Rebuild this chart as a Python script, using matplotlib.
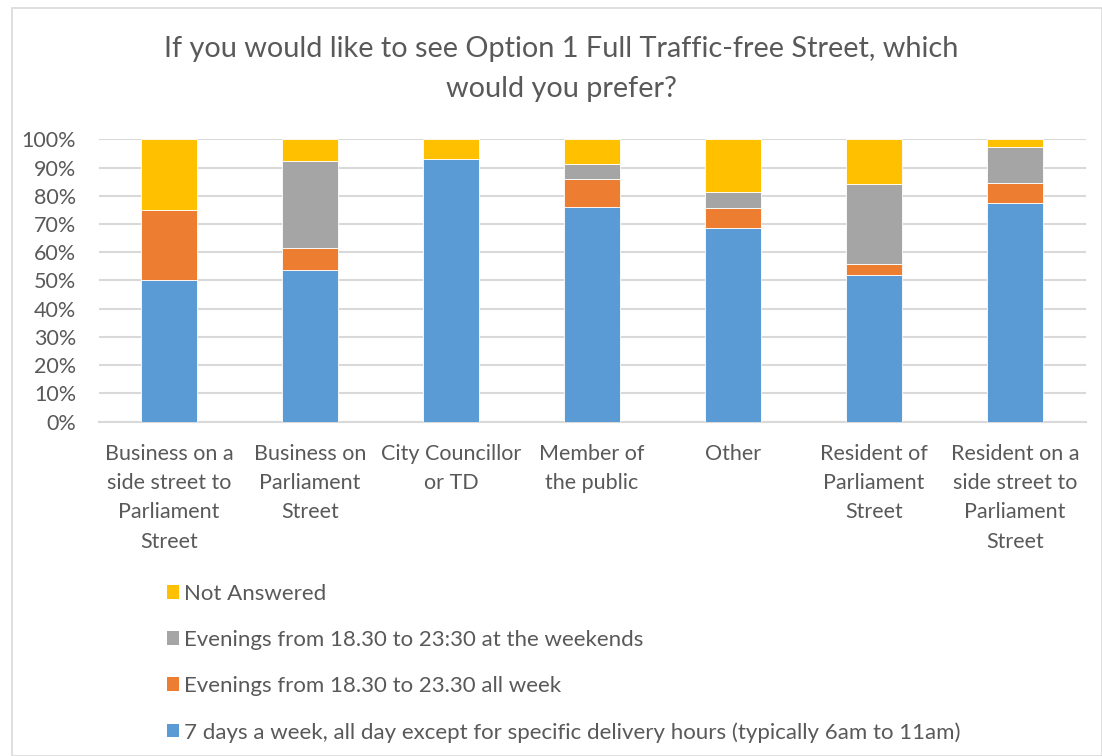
import matplotlib
matplotlib.use("Agg")
import matplotlib.pyplot as plt
from matplotlib.patches import Rectangle, Patch
import numpy as np

categories = ["Business on a\nside street to\nParliament\nStreet",
              "Business on\nParliament\nStreet",
              "City Councillor\nor TD",
              "Member of\nthe public",
              "Other",
              "Resident of\nParliament\nStreet",
              "Resident on a\nside street to\nParliament\nStreet"]
series_names = ["7 days a week, all day except for specific delivery hours (typically 6am to 11am)",
                "Evenings from 18.30 to 23.30 all week",
                "Evenings from 18.30 to 23:30 at the weekends",
                "Not Answered"]
all_day = [50.0, 53.8, 92.9, 75.9, 68.5, 52.0, 77.5]
evenings_week = [25.0, 7.7, 0.0, 9.9, 7.1, 4.0, 7.0]
evenings_weekend = [0.0, 30.8, 0.0, 5.3, 5.7, 28.0, 12.7]
not_answered = [25.0, 7.7, 7.1, 8.9, 18.7, 16.0, 2.8]
colors = ["#5b9bd5", "#ed7d31", "#a5a5a5", "#ffc000"]
title = "If you would like to see Option 1 Full Traffic-free Street, which\nwould you prefer?"

plt.rcParams['font.family'] = ['Lato', 'DejaVu Sans']
txt = "#595959"

fig = plt.figure(figsize=(11.02, 7.56), dpi=100)
fig.patch.set_facecolor("white")
# chart area border
fig.patches.append(Rectangle((12/1102, 0), 1 - 12/1102 - 0.5/1102, 1 - 8/756,
                             transform=fig.transFigure, fill=False,
                             edgecolor="#d9d9d9", linewidth=1.2))

ax = fig.add_axes([98.5/1102, 1 - 421.7/756, 987/1102, 282.4/756])
x = np.arange(len(categories))
data = [all_day, evenings_week, evenings_weekend, not_answered]
bottom = np.zeros(len(categories))
handles = []
for vals, col, name in zip(data, colors, series_names):
    v = np.array(vals)
    ax.bar(x, v, width=0.4, bottom=bottom, color=col, edgecolor="white",
           linewidth=0.6, label=name, zorder=3)
    bottom += v
    handles.append(Patch(facecolor=col, edgecolor="none", label=name))

ax.set_xlim(-0.5, len(categories) - 0.5)
ax.set_ylim(0, 100)
ax.set_yticks(np.arange(0, 101, 10))
ax.set_yticklabels([f"{t}%" for t in range(0, 101, 10)], color=txt, fontsize=15.5)
ax.set_xticks(x)
ax.set_xticklabels(categories, color=txt, fontsize=15.5, linespacing=1.58, va="top")
ax.tick_params(axis="both", length=0)
ax.tick_params(axis="x", pad=16)
ax.tick_params(axis="y", pad=16)
ax.grid(axis="y", color="#d9d9d9", linewidth=1.5, zorder=0)
for s in ["top", "right", "left"]:
    ax.spines[s].set_visible(False)
ax.spines["bottom"].set_color("#d9d9d9")
ax.spines["bottom"].set_linewidth(1.5)
ax.set_axisbelow(True)

fig.text(561/1102, 1 - 69/756, title, ha="center", va="center", fontsize=20.8,
         color=txt, linespacing=1.68)

leg = fig.legend(handles=handles[::-1], loc="upper left",
                 bbox_to_anchor=(167/1102, 1 - 584/756), frameon=False,
                 fontsize=16, labelcolor=txt, handlelength=0.55, handleheight=0.55,
                 handletextpad=0.2, labelspacing=1.17, borderaxespad=0, borderpad=0)

fig.savefig("out.png", dpi=100)
